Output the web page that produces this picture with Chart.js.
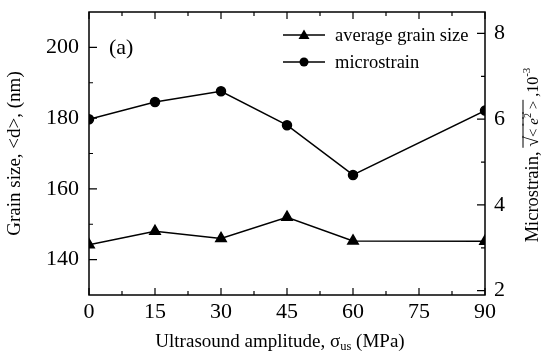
<!DOCTYPE html>
<html>
<head>
<meta charset="utf-8">
<script src="https://cdn.jsdelivr.net/npm/chart.js@4.4.1/dist/chart.umd.min.js"></script>
<style>
  html, body { margin: 0; padding: 0; background: #fff; }
  #wrap { width: 544px; height: 356px; }
</style>
</head>
<body>
<div id="wrap"><canvas id="grainChart"></canvas></div>
<script>
// values
const amplitude = [0, 15, 30, 45, 60, 90];
const grainSize = [144.2, 148, 146, 152, 145.3, 145.2];
const microstrain = [6.0, 6.4, 6.65, 5.86, 4.7, 6.2];

const xTicks = [0, 15, 30, 45, 60, 75, 90];
const grainTicks = [140, 160, 180, 200];
const strainTicks = [2, 4, 6, 8];

const serif = "'Liberation Serif', 'Times New Roman', serif";

// draw a run of text pieces (sub/superscripts, overline), centred at 0
function drawPieces(ctx, pieces) {
    let total = 0;
    pieces.forEach(p => {
        ctx.font = (p.italic ? 'italic ' : '') + p.size + 'px ' + serif;
        p.w = ctx.measureText(p.text).width;
        total += p.w;
    });
    let x = -total / 2;
    pieces.forEach(p => {
        ctx.font = (p.italic ? 'italic ' : '') + p.size + 'px ' + serif;
        ctx.fillText(p.text, x, 6 + (p.dy || 0));
        if (p.over) {
            ctx.beginPath();
            ctx.moveTo(x - 1, -9);
            ctx.lineTo(x + p.w + 1, -9);
            ctx.stroke();
        }
        x += p.w;
    });
}

// no extra room for label overhang, the frame is placed by hand
const noPad = s => { s.paddingTop = 0; s.paddingBottom = 0; s.paddingLeft = 0; s.paddingRight = 0; };

const framePlugin = {
    id: 'framePlugin',
    afterDraw(chart) {
        const ctx = chart.ctx;
        const a = chart.chartArea;
        const sx = chart.scales.x, sy = chart.scales.y, sy1 = chart.scales.y1;
        ctx.save();
        ctx.strokeStyle = '#000';
        ctx.fillStyle = '#000';
        ctx.lineWidth = 1.5;
        ctx.strokeRect(a.left, a.top, a.right - a.left, a.bottom - a.top);

        ctx.lineWidth = 1.2;
        ctx.beginPath();
        // x ticks, bottom and top, pointing in
        for (let v = 0; v <= 90; v += 7.5) {
            const px = sx.getPixelForValue(v);
            const len = (v % 15 === 0) ? 7 : 4;
            ctx.moveTo(px, a.bottom); ctx.lineTo(px, a.bottom - len);
            ctx.moveTo(px, a.top); ctx.lineTo(px, a.top + len);
        }
        // left ticks
        for (let v = 140; v <= 200; v += 10) {
            const py = sy.getPixelForValue(v);
            const len = (v % 20 === 0) ? 8 : 4;
            ctx.moveTo(a.left, py); ctx.lineTo(a.left + len, py);
        }
        // right ticks
        for (let v = 2; v <= 8; v += 1) {
            const py = sy1.getPixelForValue(v);
            const len = (v % 2 === 0) ? 8 : 4;
            ctx.moveTo(a.right, py); ctx.lineTo(a.right - len, py);
        }
        ctx.stroke();

        // panel label
        ctx.font = '22px ' + serif;
        ctx.textBaseline = 'alphabetic';
        ctx.textAlign = 'left';
        ctx.fillText('(a)', 109, 54);

        // legend
        const rows = [
            { label: 'average grain size', y: 35, style: 'triangle' },
            { label: 'microstrain', y: 62, style: 'circle' }
        ];
        rows.forEach(r => {
            ctx.lineWidth = 1.5;
            ctx.beginPath();
            ctx.moveTo(283, r.y); ctx.lineTo(325, r.y);
            ctx.stroke();
            ctx.beginPath();
            if (r.style === 'circle') {
                ctx.arc(304, r.y, 4.5, 0, Math.PI * 2);
            } else {
                ctx.moveTo(304, r.y - 5.5);
                ctx.lineTo(309.5, r.y + 4);
                ctx.lineTo(298.5, r.y + 4);
                ctx.closePath();
            }
            ctx.fill();
            ctx.font = '18.5px ' + serif;
            ctx.fillText(r.label, 335, r.y + 6);
        });

        // x axis title with subscript
        ctx.lineWidth = 1;
        ctx.save();
        ctx.translate(280, 341);
        drawPieces(ctx, [
            { text: 'Ultrasound amplitude, \u03c3', size: 19 },
            { text: 'us', size: 12.5, dy: 3 },
            { text: ' (MPa)', size: 19 }
        ]);
        ctx.restore();

        // right axis title, reading upward
        ctx.save();
        ctx.translate(532, 155);
        ctx.rotate(-Math.PI / 2);
        drawPieces(ctx, [
            { text: 'Microstrain, ', size: 18.5 },
            { text: '\u221a', size: 18, over: true },
            { text: '< ', size: 15, over: true },
            { text: 'e', size: 15, italic: true, over: true },
            { text: '2', size: 10, dy: -7, over: true },
            { text: ' >', size: 15, over: true },
            { text: ' ,10', size: 16 },
            { text: '-3', size: 11, dy: -8 }
        ]);
        ctx.restore();
        ctx.restore();
    }
};

const ctx = document.getElementById('grainChart').getContext('2d');
new Chart(ctx, {
    type: 'line',
    data: {
        labels: amplitude,
        datasets: [{
            label: 'average grain size',
            data: amplitude.map((x, i) => ({ x: x, y: grainSize[i] })),
            yAxisID: 'y',
            borderColor: '#000',
            backgroundColor: '#000',
            borderWidth: 1.5,
            pointStyle: 'triangle',
            pointRadius: 6,
            tension: 0
        }, {
            label: 'microstrain',
            data: amplitude.map((x, i) => ({ x: x, y: microstrain[i] })),
            yAxisID: 'y1',
            borderColor: '#000',
            backgroundColor: '#000',
            borderWidth: 1.5,
            pointStyle: 'circle',
            pointRadius: 4.5,
            tension: 0
        }]
    },
    options: {
        responsive: true,
        maintainAspectRatio: false,
        animation: false,
        layout: { padding: { top: 12, left: 0, right: 0, bottom: 0 } },
        plugins: {
            legend: { display: false },
            tooltip: { enabled: false }
        },
        scales: {
            x: {
                type: 'linear',
                min: 0,
                max: 90,
                afterBuildTicks: s => { s.ticks = xTicks.map(v => ({ value: v })); },
                afterFit: s => { s.height = 61; noPad(s); },
                grid: { display: false, drawTicks: false },
                border: { display: false },
                ticks: { color: '#000', padding: 4, font: { family: serif, size: 22 } }
            },
            y: {
                position: 'left',
                min: 130,
                max: 210,
                afterBuildTicks: s => { s.ticks = grainTicks.map(v => ({ value: v })); },
                afterFit: s => { s.width = 89; noPad(s); },
                grid: { display: false, drawTicks: false },
                border: { display: false },
                ticks: { color: '#000', padding: 10, font: { family: serif, size: 22 } },
                title: {
                    display: true,
                    text: 'Grain size, <d>, (nm)',
                    color: '#000',
                    padding: { top: 4, bottom: 0 },
                    font: { family: serif, size: 19 }
                }
            },
            y1: {
                position: 'right',
                min: 1.9,
                max: 8.5,
                afterBuildTicks: s => { s.ticks = strainTicks.map(v => ({ value: v })); },
                afterFit: s => { s.width = 59; noPad(s); },
                grid: { display: false, drawTicks: false },
                border: { display: false },
                ticks: { color: '#000', padding: 9, font: { family: serif, size: 22 } }
            }
        }
    },
    plugins: [framePlugin]
});
</script>
</body>
</html>
